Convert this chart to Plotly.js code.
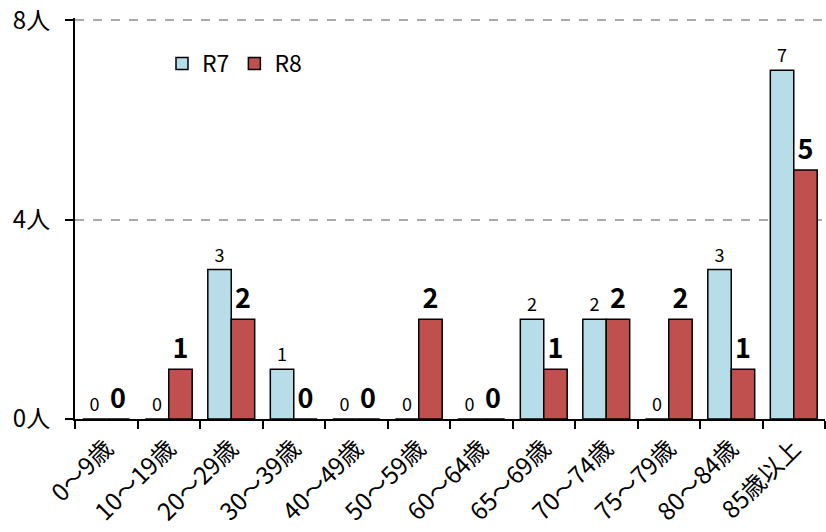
<!DOCTYPE html>
<html><head><meta charset="utf-8">
<script src="https://cdn.plot.ly/plotly-3.0.1.min.js"></script>
<style>body{margin:0;background:#fff}#c{width:826px;height:532px}</style>
</head><body><div id="c"></div>
<script>
var categories = ["0～9歳","10～19歳","20～29歳","30～39歳","40～49歳","50～59歳","60～64歳","65～69歳","70～74歳","75～79歳","80～84歳","85歳以上"];
var r7 = [0,0,3,1,0,0,0,2,2,0,3,7];
var r8 = [0,1,2,0,0,2,0,1,2,2,1,5];
var yTickVals = [0,4,8];
var yTickText = ["0人","4人","8人"];
var font = "Noto Sans CJK JP, Noto Sans, sans-serif";

var traces = [
  {type:"bar", name:"R7", x:categories, y:r7, text:r7.map(String), textposition:"outside",
   textfont:{family:font,size:18,color:"#000"},
   marker:{color:"#b7dde8", line:{color:"#000", width:1.5}}, cliponaxis:false},
  {type:"bar", name:"R8", x:categories, y:r8, text:r8.map(String), textposition:"outside",
   textfont:{family:font,size:27,color:"#000",weight:"bold"},
   marker:{color:"#c0504d", line:{color:"#000", width:1.5}}, cliponaxis:false}
];
var layout = {
  width:826, height:532,
  margin:{l:75, r:1, t:18, b:113},
  paper_bgcolor:"#fff", plot_bgcolor:"#fff",
  font:{family:font, size:20, color:"#000"},
  barmode:"group", bargap:0.25, bargroupgap:0,
  showlegend:true,
  legend:{orientation:"h", x:0.116, y:0.94, xanchor:"left", yanchor:"top",
          font:{family:font,size:23}, bgcolor:"rgba(0,0,0,0)"},
  xaxis:{showline:true, linecolor:"#000", linewidth:2, ticks:"outside", ticklen:8,
         tickcolor:"#000", tickwidth:2, tickson:"boundaries", tickangle:-45,
         tickfont:{family:font,size:24}, showgrid:false, ticklabelstandoff:4, layer:"above traces"},
  yaxis:{range:[0,8.05], tickvals:yTickVals, ticktext:yTickText, showline:true,
         linecolor:"#000", linewidth:2, ticks:"outside", ticklen:8, tickcolor:"#000",
         tickwidth:2, tickfont:{family:font,size:24}, showgrid:true, ticklabelstandoff:10,
         gridcolor:"#aaaaaa", griddash:"dash", gridwidth:1.5, zeroline:false, layer:"above traces"}
};
Plotly.newPlot("c", traces, layout, {displayModeBar:false});
</script></body></html>
